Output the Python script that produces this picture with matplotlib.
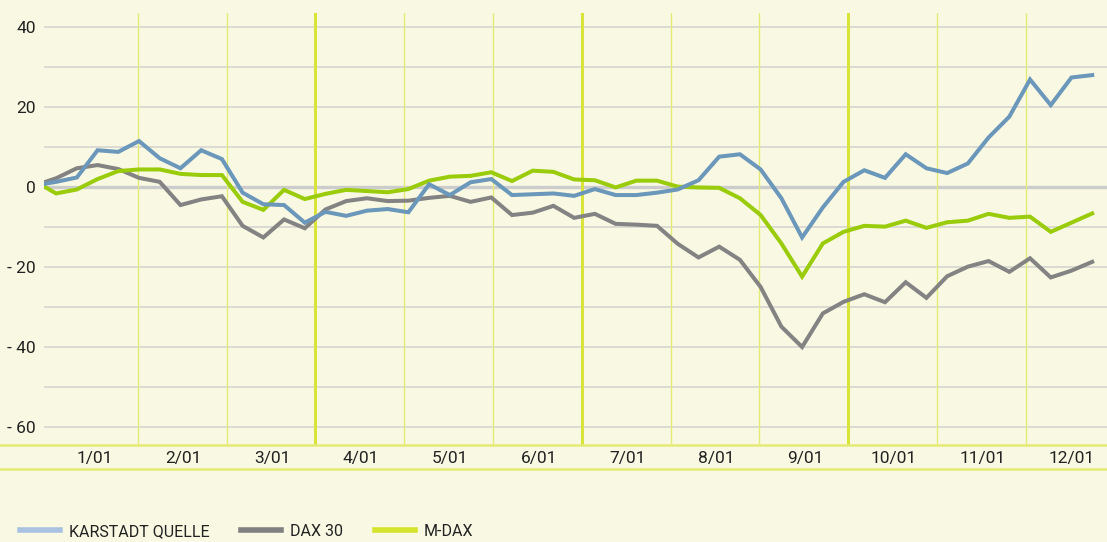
import matplotlib
matplotlib.use('Agg')
import matplotlib.pyplot as plt
from matplotlib.lines import Line2D

plt.rcParams['font.family'] = ['Roboto', 'DejaVu Sans']

# weekly closes, x in days (30-day months as drawn in the chart)
days = [-2, 2] + [9 + 7 * k for k in range(50)]

karstadt = [0.8, 1.3, 2.4, 9.2, 8.8, 11.5, 7.2, 4.7, 9.2, 7.0,
            -1.4, -4.3, -4.5, -8.9, -6.2, -7.2, -5.9, -5.5, -6.3, 0.7,
            -2.0, 1.2, 2.0, -2.0, -1.8, -1.6, -2.2, -0.5, -2.0, -2.0,
            -1.4, -0.6, 1.7, 7.6, 8.2, 4.4, -2.8, -12.6, -5.1, 1.3,
            4.2, 2.3, 8.2, 4.7, 3.5, 5.9, 12.4, 17.6, 26.9, 20.5,
            27.4, 28.0]
dax30 = [1.2, 2.2, 4.7, 5.5, 4.5, 2.3, 1.3, -4.5, -3.1, -2.3,
         -9.7, -12.6, -8.1, -10.3, -5.6, -3.5, -2.8, -3.5, -3.4, -2.7,
         -2.2, -3.7, -2.6, -7.0, -6.4, -4.7, -7.7, -6.7, -9.2, -9.4,
         -9.7, -14.2, -17.6, -14.9, -18.2, -25.0, -34.9, -40.0, -31.6, -28.7,
         -26.8, -28.8, -23.8, -27.7, -22.3, -19.9, -18.5, -21.2, -17.8, -22.6,
         -20.9, -18.7]
mdax = [0.1, -1.6, -0.6, 2.0, 4.0, 4.4, 4.4, 3.3, 3.0, 3.0,
        -3.7, -5.7, -0.7, -3.0, -1.7, -0.7, -1.0, -1.3, -0.5, 1.6,
        2.6, 2.8, 3.7, 1.5, 4.1, 3.8, 1.9, 1.7, -0.1, 1.6,
        1.6, 0.1, -0.1, -0.2, -2.8, -7.0, -14.1, -22.4, -14.1, -11.2,
        -9.7, -9.9, -8.4, -10.2, -8.8, -8.4, -6.7, -7.7, -7.4, -11.2,
        -8.9, -6.6]

month_labels = ['1/01', '2/01', '3/01', '4/01', '5/01', '6/01',
                '7/01', '8/01', '9/01', '10/01', '11/01', '12/01']
yticks = [40, 20, 0, -20, -40, -60]
ylabels = ['40', '20', '0', '- 20', '- 40', '- 60']

bg = '#f9f9e3'
thin_yel = '#e3eb74'
thick_yel = '#d8e43a'

fig = plt.figure(figsize=(11.07, 5.42), dpi=100, facecolor=bg)
ax = fig.add_axes([44 / 1107, (542 - 445) / 542, (1107 - 44) / 1107, (445 - 12.7) / 542])
ax.set_facecolor(bg)

ax.set_xlim(-2.1, 357)
ax.set_ylim(-64.5, 43.6)

# horizontal grid
for v in range(-60, 50, 10):
    if v == 0:
        ax.axhline(v, color='#cccccc', lw=2.4, zorder=1)
    else:
        ax.axhline(v, color='#d6d6d0', lw=1.2, zorder=1)

# month separators, thicker at quarter ends
for m in range(1, 12):
    ax.axvline(30 * m - 0.4, color=thick_yel if m % 3 == 0 else thin_yel,
               lw=2.2 if m % 3 == 0 else 1.0, zorder=1)

ax.plot(days, dax30, color='#838383', lw=2.9, zorder=3, solid_joinstyle='miter')
ax.plot(days, mdax, color='#9acc0c', lw=2.9, zorder=4, solid_joinstyle='miter')
ax.plot(days, karstadt, color='#6b97bb', lw=2.9, zorder=5, solid_joinstyle='miter')

for s in ax.spines.values():
    s.set_visible(False)

ax.set_yticks(yticks)
ax.set_yticklabels(ylabels)
ax.set_xticks([15 + 30 * i for i in range(12)])
ax.set_xticklabels(month_labels)
ax.tick_params(length=0, labelsize=12.5, colors='#222222')
ax.tick_params(axis='y', pad=6)
ax.tick_params(axis='x', pad=4)

# band lines under the plot
for py in (445, 469):
    fig.add_artist(Line2D([0, 1], [(542 - py) / 542] * 2, color=thin_yel, lw=1.8))

handles = [Line2D([], [], color='#a9c2e2', lw=4),
           Line2D([], [], color='#808080', lw=4),
           Line2D([], [], color='#d4e32c', lw=4)]
fig.legend(handles, ['KARSTADT QUELLE', 'DAX 30', 'M-DAX'], ncol=3,
           loc='lower left', bbox_to_anchor=(20 / 1107, 3 / 542), frameon=False,
           fontsize=11.5, handlelength=2.5, handletextpad=0.55,
           columnspacing=2.0, borderpad=0, borderaxespad=0,
           labelcolor='#222222')

fig.savefig('out.png', dpi=100, facecolor=bg)
